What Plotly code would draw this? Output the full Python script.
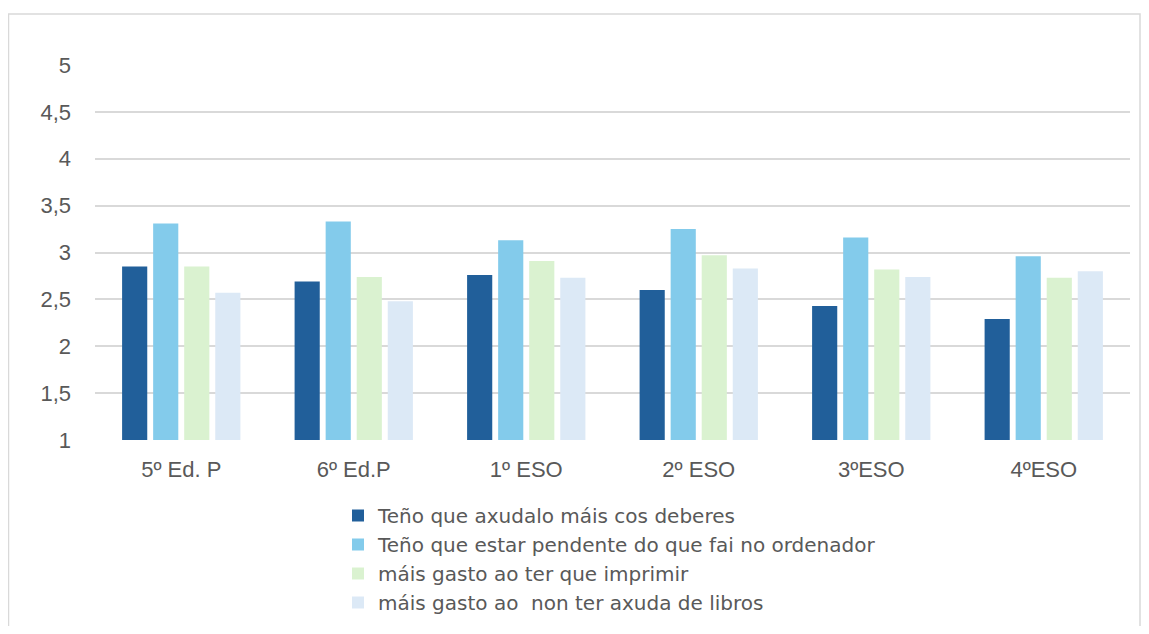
import plotly.graph_objects as go

categories = ["5º Ed. P", "6º Ed.P", "1º ESO", "2º ESO", "3ºESO", "4ºESO"]
series_names = [
    "Teño que axudalo máis cos deberes",
    "Teño que estar pendente do que fai no ordenador",
    "máis gasto ao ter que imprimir",
    "máis gasto ao  non ter axuda de libros",
]
s1 = [2.85, 2.69, 2.76, 2.60, 2.43, 2.29]
s2 = [3.31, 3.33, 3.13, 3.25, 3.16, 2.96]
s3 = [2.85, 2.74, 2.91, 2.97, 2.82, 2.73]
s4 = [2.57, 2.48, 2.73, 2.83, 2.74, 2.80]
colors = ["#215f9a", "#83cbeb", "#daf2d0", "#dce9f6"]
tick_vals = [1, 1.5, 2, 2.5, 3, 3.5, 4, 4.5, 5]
tick_text = ["1", "1,5", "2", "2,5", "3", "3,5", "4", "4,5", "5"]

fig = go.Figure()
for i, (name, vals) in enumerate(zip(series_names, [s1, s2, s3, s4])):
    fig.add_trace(go.Bar(
        x=categories, y=vals, name=name, legendgroup=f"g{i}",
        marker=dict(color=colors[i], line=dict(width=0)),
    ))

# page offset of the figure (browser body margin)
OFF = 8
W, H = 1149 - 2 * OFF, 634 - 2 * OFF
PL, PR, PT, PB = 95 - OFF, 1130 - OFF, 65 - OFF, 440 - OFF
ml, mr, mt, mb = PL, W - PR, PT, H - PB
pw, ph = PR - PL, PB - PT

def px_x(p):
    return (p - OFF - PL) / pw

def px_y(p):
    return (PB - (p - OFF)) / ph

TICKFONT = "Liberation Sans, Arial, sans-serif"
LEGFONT = "DejaVu Sans, Open Sans, sans-serif"
fig.update_layout(
    width=W, height=H,
    margin=dict(l=ml, r=mr, t=mt, b=mb, autoexpand=False),
    paper_bgcolor="white", plot_bgcolor="white",
    barmode="group", bargap=0.28, bargroupgap=0.19,
    font=dict(family=TICKFONT, color="#595959", size=21),
    showlegend=True,
    legend=dict(
        x=px_x(338), y=px_y(496), xanchor="left", yanchor="top",
        orientation="v", tracegroupgap=0,
        font=dict(family=LEGFONT, size=20, color="#595959"),
        bgcolor="rgba(0,0,0,0)",
    ),
    xaxis=dict(
        showgrid=False, showline=False, zeroline=False,
        ticks="", ticklabelstandoff=14, tickfont=dict(size=22),
    ),
    yaxis=dict(
        range=[1, 5], tickvals=tick_vals, ticktext=tick_text,
        showgrid=True, gridcolor="#d9d9d9", gridwidth=1.5,
        zeroline=False, showline=False, ticks="",
        ticklabelstandoff=23, tickfont=dict(size=22),
    ),
    shapes=[dict(
        type="rect", xref="paper", yref="paper",
        x0=px_x(8.5), x1=px_x(1140), y0=px_y(660), y1=px_y(14),
        line=dict(color="#d9d9d9", width=1.5), fillcolor="rgba(0,0,0,0)",
        layer="below",
    )],
)

fig.write_html("out.html")
